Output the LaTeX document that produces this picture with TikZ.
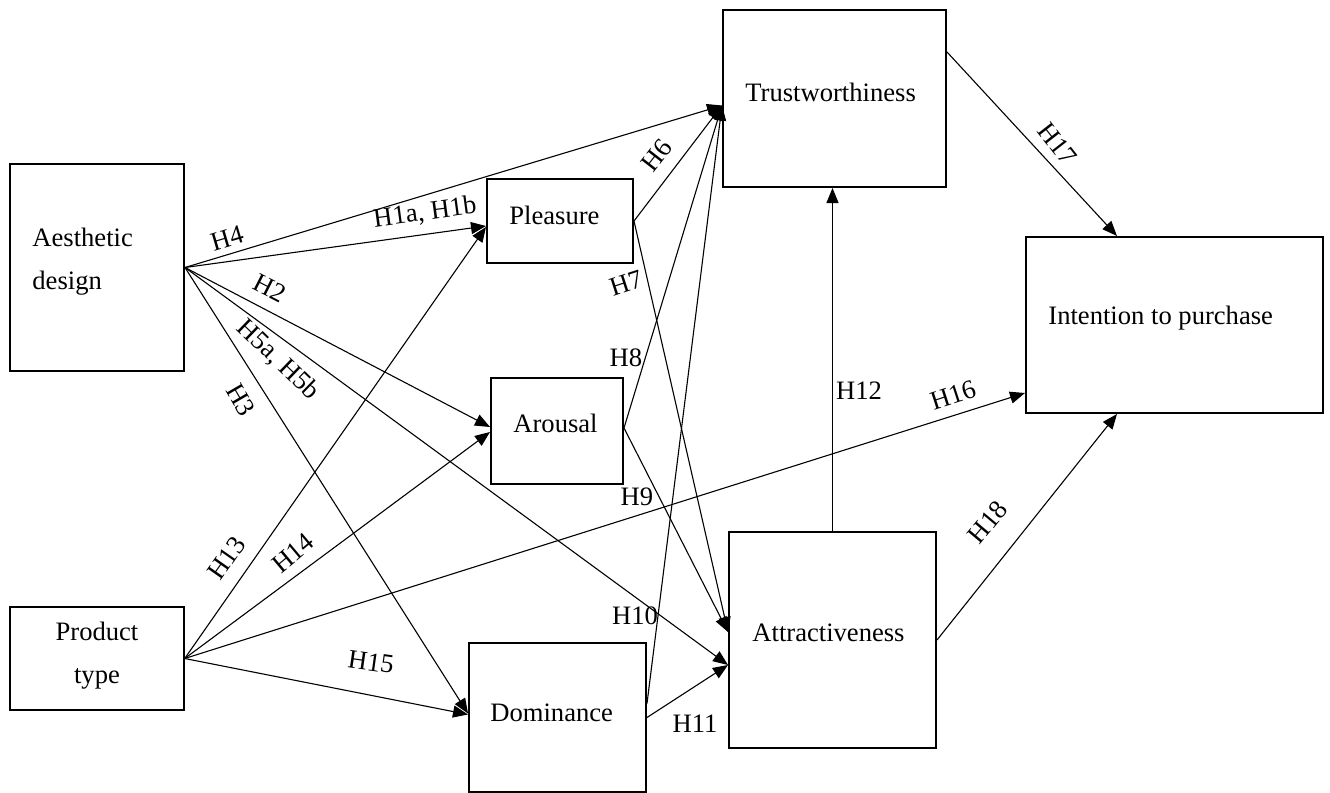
\documentclass[tikz,border=0pt]{standalone}
\usepackage{fontspec}
\setmainfont{Liberation Serif}
\usetikzlibrary{arrows.meta,calc}
\begin{document}
\begin{tikzpicture}[x=0.5pt,y=-0.5pt,
  every node/.style={font=\fontsize{13.3pt}{21.5pt}\selectfont},
  box/.style={draw,line width=1pt,inner sep=0pt},
  txt/.style={inner sep=0pt},
  lbl/.style={inner sep=0pt},
  arr/.style={-{Triangle[length=7.5pt,width=6pt]},line width=0.55pt}]
\fill[white] (0,0) rectangle (1330,793);
\useasboundingbox (0,0) rectangle (1330,793);
% boxes
\node[box, minimum width=87pt, minimum height=103.5pt] (ad) at (97,267.5) {};
\node[box, line width=0.7pt, minimum width=87pt, minimum height=51.5pt] (pt) at (97,658.5) {};
\node[box, minimum width=73pt, minimum height=42pt] (pl) at (560,221) {};
\node[box, minimum width=66pt, minimum height=53pt] (ar) at (557,431) {};
\node[box, minimum width=88.5pt, minimum height=74.5pt] (dm) at (557.5,717.5) {};
\node[box, minimum width=111.5pt, minimum height=88.5pt] (tr) at (834.5,98.5) {};
\node[box, minimum width=103.5pt, minimum height=108pt] (at) at (832.5,640) {};
\node[box, minimum width=148.5pt, minimum height=88pt] (ip) at (1174.5,325) {};
% box texts
\node[txt, anchor=west, align=left] (adT) at (32,262) {Aesthetic\\design};
\node[txt, align=center] (ptT) at (97,656) {Product\\type};
\node[txt, anchor=west] (plT) at (509,215) {Pleasure};
\node[txt, anchor=west] (arT) at (513,423) {Arousal};
\node[txt, anchor=west] (dmT) at (490,713) {Dominance};
\node[txt, anchor=west] (trT) at (745,92) {Trustworthiness};
\node[txt, anchor=west] (atT) at (752,633) {Attractiveness};
\node[txt, anchor=west] (ipT) at (1048,318) {Intention to purchase};
% connectors from Aesthetic design
\draw[arr] (ad.east) -- ($(tr.west)+(0,7)$);
\draw[arr] (ad.east) -- ($(pl.west)+(0,5)$);
\draw[arr] (ad.east) -- ($(ar.west)+(0,-4)$);
\draw[arr] (ad.east) -- ($(at.west)+(0,25)$);
\draw[arr] (ad.east) -- ($(dm.west)+(0,-4)$);
% connectors from Product type
\draw[arr] (pt.east) -- ($(pl.west)+(0,6)$);
\draw[arr] (pt.east) -- ($(ar.west)+(0,1)$);
\draw[arr] (pt.east) -- ($(ip.south west)+(0,-21)$);
\draw[arr] (pt.east) -- ($(dm.west)+(0,-3)$);
% mediators
\draw[arr] (pl.east) -- ($(tr.west)+(0,7)$);
\draw[arr] (pl.east) -- ($(at.west)+(0,-8)$);
\draw[arr] ($(ar.east)+(0,-3)$) -- ($(tr.west)+(0,7)$);
\draw[arr] ($(ar.east)+(0,-3)$) -- ($(at.west)+(0,-8)$);
\draw[arr] ($(dm.east)+(0,-14)$) -- ($(tr.west)+(0,7)$);
\draw[arr] (dm.east) -- ($(at.west)+(0,25)$);
\draw[arr] (at.north) -- (at.north |- tr.south);
\draw[arr] ($(tr.north east)+(0,43)$) -- ($(ip.north west)+(92,0)$);
\draw[arr] (at.east) -- ($(ip.south west)+(92,0)$);
% labels
\node[lbl, rotate=16.5] (l4) at (227,238) {H4};
\node[lbl, rotate=7.7] (l1) at (425,213) {H1a, H1b};
\node[lbl, rotate=-27] (l2) at (270,288) {H2};
\node[lbl, rotate=-44] (l5) at (278,360) {H5a, H5b};
\node[lbl, rotate=-60] (l3) at (241,400) {H3};
\node[lbl, rotate=55] (l13) at (227,558) {H13};
\node[lbl, rotate=40] (l14) at (293,553) {H14};
\node[lbl, rotate=-8] (l15) at (371,662) {H15};
\node[lbl, rotate=18] (l16) at (953,395) {H16};
\node[lbl, rotate=-52] (l17) at (1058,144) {H17};
\node[lbl, rotate=50] (l18) at (988,522) {H18};
\node[lbl, rotate=52] (l6) at (657,155) {H6};
\node[lbl, rotate=18] (l7) at (626,283) {H7};
\node[lbl] (l8) at (626,358) {H8};
\node[lbl] (l9) at (637,497) {H9};
\node[lbl] (l10) at (635,616) {H10};
\node[lbl] (l11) at (695,724) {H11};
\node[lbl] (l12) at (859,391) {H12};
\end{tikzpicture}
\end{document}
